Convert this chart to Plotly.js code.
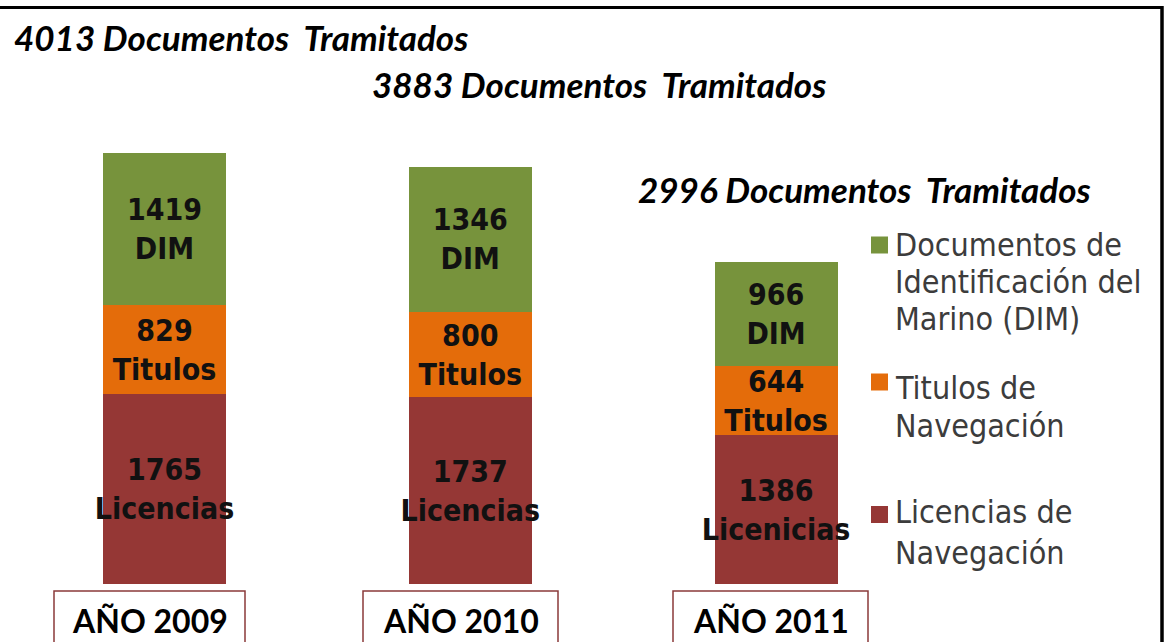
<!DOCTYPE html>
<html>
<head>
<meta charset="utf-8">
<script src="https://cdn.plot.ly/plotly-3.0.1.min.js"></script>
<style>
html,body{margin:0;padding:0;background:#fff;}
#chart{width:1165px;height:642px;}
</style>
</head>
<body>
<div id="chart"></div>
<script>
// ---- data ----
const years = ['2009', '2010', '2011'];
const licenciasValues = [1765, 1737, 1386];
const titulosValues = [829, 800, 644];
const dimValues = [1419, 1346, 966];
const licenciasLabels = ['Licencias', 'Licencias', 'Licenicias'];
const titulosLabels = ['Titulos', 'Titulos', 'Titulos'];
const dimLabels = ['DIM', 'DIM', 'DIM'];
const yearLabels = ['AÑO 2009', 'AÑO 2010', 'AÑO 2011'];
const seriesNames = ['Licencias de Navegación', 'Titulos de Navegación', 'Documentos de Identificación del Marino (DIM)'];
const legendLines = [
  ['Licencias de', 'Navegación'],
  ['Titulos de', 'Navegación'],
  ['Documentos de', 'Identificación del', 'Marino (DIM)']
];
const totalSuffix = 'Documentos\u00a0 Tramitados';

// ---- styles ----
const W = 1165, H = 642;
const colors = ['#953735', '#E46C0A', '#77933C'];
const condensed = "'DejaVu Sans Condensed', 'DejaVu Sans', sans-serif";
const px = x => x / W;
const py = y => 1 - y / H;

function makeTrace(vals, labels, name, color) {
  return {
    type: 'bar', x: years, y: vals, name: name,
    width: 0.402,
    marker: {color: color, line: {width: 0}},
    text: vals.map((v, i) => v + '<br>' + labels[i]),
    textposition: 'inside', insidetextanchor: 'middle', textangle: 0,
    constraintext: 'none',
    insidetextfont: {family: condensed, size: 30, color: '#111', weight: 'bold'},
    hoverinfo: 'skip', showlegend: false
  };
}
const traces = [
  makeTrace(licenciasValues, licenciasLabels, seriesNames[0], colors[0]),
  makeTrace(titulosValues, titulosLabels, seriesNames[1], colors[1]),
  makeTrace(dimValues, dimLabels, seriesNames[2], colors[2])
];

const totals = years.map((_, i) => licenciasValues[i] + titulosValues[i] + dimValues[i]);

const annotations = [];
const shapes = [];

// totals titles
const titlePos = [[12, 37], [370, 84], [636, 189]];
totals.forEach((t, i) => {
  annotations.push({
    xref: 'paper', yref: 'paper', x: px(titlePos[i][0]), y: py(titlePos[i][1]),
    xanchor: 'left', yanchor: 'middle', showarrow: false,
    text: '<b><i>' + t + ' ' + totalSuffix + '</i></b>',
    font: {family: 'Lato, sans-serif', size: 35, color: '#000'}
  });
});

// year boxes
const boxPos = [[54, 245], [363, 558], [673, 868]];
yearLabels.forEach((lab, i) => {
  shapes.push({
    type: 'rect', xref: 'paper', yref: 'paper',
    x0: px(boxPos[i][0]), x1: px(boxPos[i][1]), y0: py(591), y1: py(660),
    line: {color: '#8B3A3A', width: 1.5}, fillcolor: 'rgba(0,0,0,0)'
  });
  annotations.push({
    xref: 'paper', yref: 'paper', x: px((boxPos[i][0] + boxPos[i][1]) / 2), y: py(620),
    xanchor: 'center', yanchor: 'middle', showarrow: false,
    text: '<b>' + lab + '</b>',
    font: {family: 'Lato, sans-serif', size: 32, color: '#000'}
  });
});

// legend (manual, top to bottom: DIM, Titulos, Licencias)
const legendLineY = [[512, 552.5], [388, 426], [244.5, 281.5, 318.5]];
const legendMarkY = [514.5, 382, 245];
[2, 1, 0].forEach(k => {
  shapes.push({
    type: 'rect', xref: 'paper', yref: 'paper',
    x0: px(871), x1: px(888), y0: py(legendMarkY[k] + 8.5), y1: py(legendMarkY[k] - 8.5),
    line: {width: 0}, fillcolor: colors[k]
  });
  legendLines[k].forEach((ln, j) => {
    annotations.push({
      xref: 'paper', yref: 'paper', x: px(893), y: py(legendLineY[k][j]),
      xanchor: 'left', yanchor: 'middle', showarrow: false,
      text: ln,
      font: {family: condensed, size: 32, color: '#3c3c3c'}
    });
  });
});

// frame lines
shapes.push({type: 'line', xref: 'paper', yref: 'paper', x0: 0, x1: px(1163), y0: py(7.5), y1: py(7.5), line: {color: '#000', width: 3}});
shapes.push({type: 'line', xref: 'paper', yref: 'paper', x0: px(1162), x1: px(1162), y0: py(6), y1: py(650), line: {color: '#000', width: 3.5}});

const layout = {
  width: W, height: H,
  margin: {l: 0, r: 0, t: 0, b: 0, pad: 0},
  paper_bgcolor: '#fff', plot_bgcolor: '#fff',
  barmode: 'stack',
  showlegend: false,
  xaxis: {type: 'category', range: [-0.538, 3.272], visible: false, fixedrange: true},
  yaxis: {range: [-540, 5438], visible: false, fixedrange: true},
  annotations: annotations,
  shapes: shapes
};

Plotly.newPlot('chart', traces, layout, {displayModeBar: false, staticPlot: true});
</script>
</body>
</html>
